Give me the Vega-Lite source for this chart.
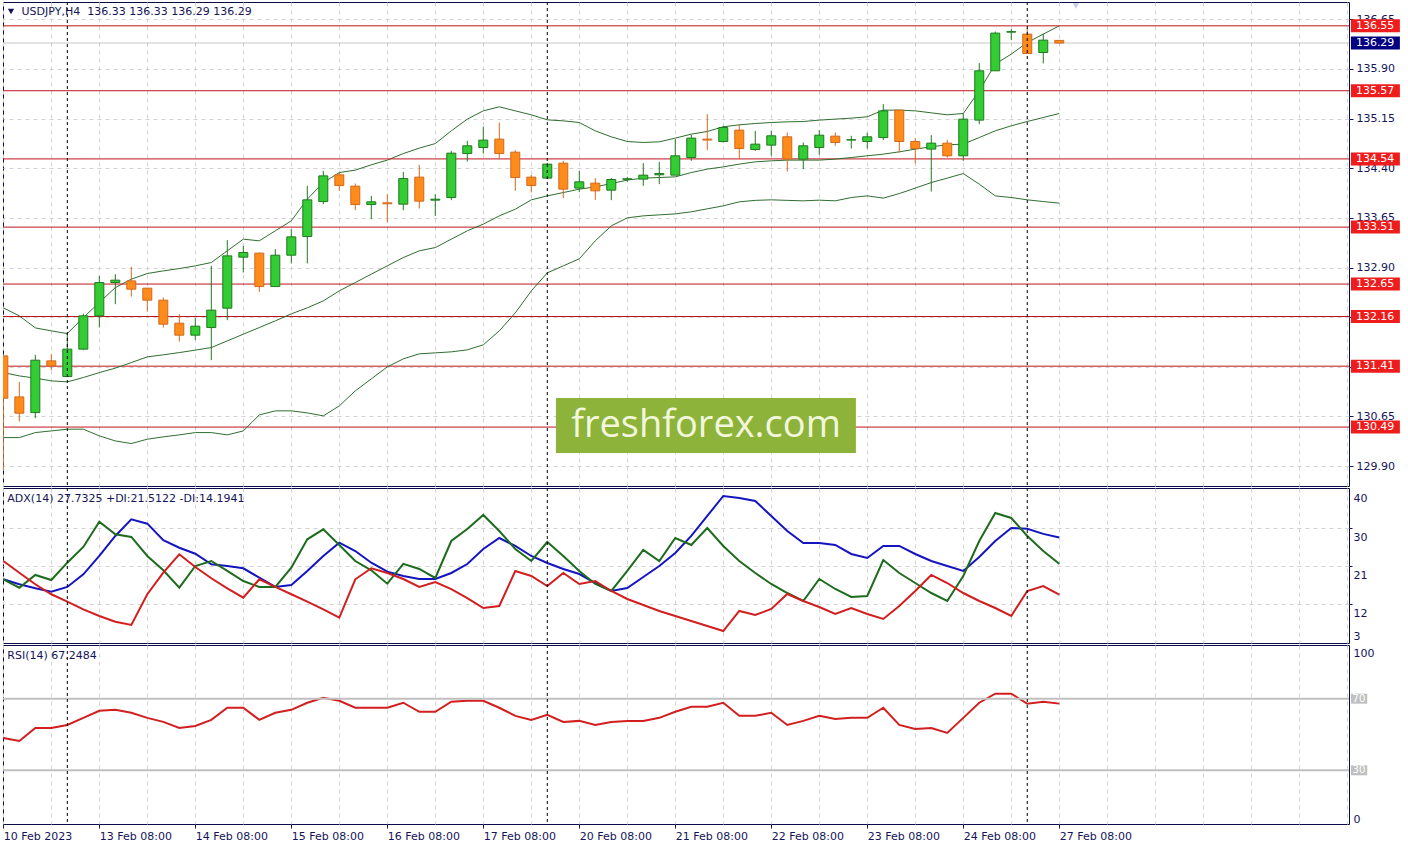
{
"$schema": "https://vega.github.io/schema/vega-lite/v6.json",
"background": "#ffffff",
"padding": {"left": -2, "top": 1, "right": 0, "bottom": 0},
"spacing": 2,
"bounds": "flush",
"config": {
  "view": {"stroke": "#0b0b45", "strokeWidth": 1},
  "axis": {"labelFont": "DejaVu Sans", "labelFontSize": 11, "labelColor": "#14145a", "tickColor": "#14145a", "domainColor": "#0b0b45", "gridColor": "#d2d2d2", "gridDash": [4, 4], "gridWidth": 1, "labelOverlap": false},
  "text": {"font": "DejaVu Sans", "fontSize": 11}
},
"datasets": {
  "bars": [
{"i":0,"o":131.565,"h":131.58,"l":129.83,"c":130.926,"bu":132.291,"bm":131.313,"bl":130.331,"adx":17.85,"pdi":17.85,"mdi":22.18,"rsi":48.03},
{"i":1,"o":130.946,"h":131.173,"l":130.573,"c":130.700,"bu":132.170,"bm":131.263,"bl":130.331,"adx":16.67,"pdi":15.86,"mdi":19.41,"rsi":46.34},
{"i":2,"o":130.709,"h":131.580,"l":130.624,"c":131.500,"bu":131.988,"bm":131.229,"bl":130.407,"adx":15.72,"pdi":18.87,"mdi":16.67,"rsi":53.66},
{"i":3,"o":131.490,"h":131.591,"l":131.349,"c":131.414,"bu":131.943,"bm":131.188,"bl":130.432,"adx":14.91,"pdi":17.68,"mdi":14.3,"rsi":53.66},
{"i":4,"o":131.253,"h":131.898,"l":131.248,"c":131.667,"bu":131.902,"bm":131.173,"bl":130.458,"adx":16.03,"pdi":21.78,"mdi":12.54,"rsi":55.35},
{"i":5,"o":131.667,"h":132.204,"l":131.651,"c":132.170,"bu":132.144,"bm":131.238,"bl":130.458,"adx":19.03,"pdi":25.5,"mdi":10.74,"rsi":59.3},
{"i":6,"o":132.170,"h":132.774,"l":131.993,"c":132.673,"bu":132.371,"bm":131.313,"bl":130.357,"adx":23.37,"pdi":31.49,"mdi":9.16,"rsi":63.24},
{"i":7,"o":132.673,"h":132.799,"l":132.346,"c":132.709,"bu":132.597,"bm":131.380,"bl":130.281,"adx":28.11,"pdi":28.51,"mdi":7.81,"rsi":63.8},
{"i":8,"o":132.698,"h":132.910,"l":132.461,"c":132.573,"bu":132.724,"bm":131.464,"bl":130.241,"adx":32.06,"pdi":27.87,"mdi":7.03,"rsi":62.11},
{"i":9,"o":132.588,"h":132.588,"l":132.235,"c":132.407,"bu":132.809,"bm":131.550,"bl":130.307,"adx":31.02,"pdi":23.37,"mdi":14.3,"rsi":59.3},
{"i":10,"o":132.407,"h":132.446,"l":131.993,"c":132.044,"bu":132.849,"bm":131.581,"bl":130.342,"adx":27.09,"pdi":19.98,"mdi":19.41,"rsi":57.04},
{"i":11,"o":132.059,"h":132.195,"l":131.781,"c":131.878,"bu":132.884,"bm":131.615,"bl":130.372,"adx":25.33,"pdi":15.86,"mdi":23.77,"rsi":53.66},
{"i":12,"o":131.878,"h":132.135,"l":131.807,"c":132.014,"bu":132.925,"bm":131.652,"bl":130.407,"adx":23.91,"pdi":21.0,"mdi":20.76,"rsi":54.79},
{"i":13,"o":131.993,"h":132.925,"l":131.500,"c":132.256,"bu":132.975,"bm":131.691,"bl":130.407,"adx":21.4,"pdi":22.18,"mdi":18.09,"rsi":58.17},
{"i":14,"o":132.286,"h":133.313,"l":132.105,"c":133.076,"bu":133.152,"bm":131.792,"bl":130.372,"adx":21.0,"pdi":19.82,"mdi":15.72,"rsi":64.93},
{"i":15,"o":133.056,"h":133.227,"l":132.824,"c":133.126,"bu":133.328,"bm":131.893,"bl":130.432,"adx":20.46,"pdi":17.45,"mdi":13.49,"rsi":64.93},
{"i":16,"o":133.117,"h":133.126,"l":132.532,"c":132.612,"bu":133.303,"bm":131.993,"bl":130.674,"adx":18.23,"pdi":16.03,"mdi":17.85,"rsi":58.17},
{"i":17,"o":132.612,"h":133.177,"l":132.612,"c":133.086,"bu":133.454,"bm":132.094,"bl":130.735,"adx":16.03,"pdi":16.03,"mdi":16.03,"rsi":62.11},
{"i":18,"o":133.086,"h":133.479,"l":132.960,"c":133.363,"bu":133.605,"bm":132.200,"bl":130.735,"adx":16.5,"pdi":20.6,"mdi":14.3,"rsi":63.8},
{"i":19,"o":133.368,"h":134.134,"l":132.961,"c":133.922,"bu":133.933,"bm":132.291,"bl":130.704,"adx":19.82,"pdi":27.32,"mdi":12.54,"rsi":67.75},
{"i":20,"o":133.896,"h":134.360,"l":133.857,"c":134.284,"bu":134.183,"bm":132.396,"bl":130.659,"adx":23.37,"pdi":29.69,"mdi":10.74,"rsi":70.56},
{"i":21,"o":134.300,"h":134.334,"l":134.058,"c":134.138,"bu":134.334,"bm":132.547,"bl":130.810,"adx":26.52,"pdi":25.97,"mdi":8.76,"rsi":68.87},
{"i":22,"o":134.129,"h":134.168,"l":133.766,"c":133.851,"bu":134.371,"bm":132.673,"bl":131.037,"adx":24.55,"pdi":22.18,"mdi":17.85,"rsi":64.93},
{"i":23,"o":133.851,"h":133.982,"l":133.630,"c":133.892,"bu":134.451,"bm":132.800,"bl":131.218,"adx":21.78,"pdi":19.98,"mdi":20.46,"rsi":64.93},
{"i":24,"o":133.877,"h":134.008,"l":133.579,"c":133.862,"bu":134.522,"bm":132.925,"bl":131.399,"adx":19.65,"pdi":16.81,"mdi":19.34,"rsi":64.93},
{"i":25,"o":133.857,"h":134.345,"l":133.766,"c":134.244,"bu":134.621,"bm":133.050,"bl":131.520,"adx":18.63,"pdi":21.5,"mdi":17.92,"rsi":67.75},
{"i":26,"o":134.265,"h":134.451,"l":133.791,"c":133.902,"bu":134.703,"bm":133.152,"bl":131.596,"adx":17.92,"pdi":20.29,"mdi":16.03,"rsi":62.68},
{"i":27,"o":133.917,"h":134.008,"l":133.680,"c":133.932,"bu":134.772,"bm":133.201,"bl":131.611,"adx":17.92,"pdi":18.16,"mdi":17.2,"rsi":62.68},
{"i":28,"o":133.957,"h":134.662,"l":133.917,"c":134.627,"bu":134.964,"bm":133.328,"bl":131.626,"adx":19.34,"pdi":26.92,"mdi":15.5,"rsi":68.31},
{"i":29,"o":134.621,"h":134.813,"l":134.500,"c":134.738,"bu":135.141,"bm":133.454,"bl":131.656,"adx":21.47,"pdi":29.76,"mdi":13.4,"rsi":68.87},
{"i":30,"o":134.712,"h":135.025,"l":134.621,"c":134.824,"bu":135.266,"bm":133.555,"bl":131.732,"adx":25.03,"pdi":33.08,"mdi":11.05,"rsi":68.87},
{"i":31,"o":134.839,"h":135.090,"l":134.537,"c":134.621,"bu":135.327,"bm":133.680,"bl":131.943,"adx":27.63,"pdi":29.29,"mdi":11.53,"rsi":64.93},
{"i":32,"o":134.642,"h":134.673,"l":134.058,"c":134.259,"bu":135.266,"bm":133.781,"bl":132.215,"adx":25.74,"pdi":25.03,"mdi":19.82,"rsi":60.42},
{"i":33,"o":134.265,"h":134.300,"l":134.032,"c":134.138,"bu":135.206,"bm":133.922,"bl":132.547,"adx":23.37,"pdi":22.18,"mdi":18.63,"rsi":58.17},
{"i":34,"o":134.250,"h":134.481,"l":134.240,"c":134.461,"bu":135.130,"bm":133.982,"bl":132.819,"adx":21.71,"pdi":26.68,"mdi":16.26,"rsi":60.99},
{"i":35,"o":134.476,"h":134.511,"l":133.948,"c":134.084,"bu":135.115,"bm":134.032,"bl":132.925,"adx":20.29,"pdi":23.37,"mdi":19.34,"rsi":57.04},
{"i":36,"o":134.099,"h":134.360,"l":134.037,"c":134.194,"bu":135.090,"bm":134.083,"bl":133.031,"adx":19.1,"pdi":19.82,"mdi":16.74,"rsi":57.61},
{"i":37,"o":134.174,"h":134.250,"l":133.922,"c":134.058,"bu":134.964,"bm":134.118,"bl":133.303,"adx":16.97,"pdi":16.74,"mdi":17.45,"rsi":55.35},
{"i":38,"o":134.068,"h":134.250,"l":133.917,"c":134.229,"bu":134.874,"bm":134.168,"bl":133.529,"adx":15.08,"pdi":15.08,"mdi":15.08,"rsi":57.04},
{"i":39,"o":134.232,"h":134.269,"l":134.194,"c":134.240,"bu":134.803,"bm":134.220,"bl":133.650,"adx":15.79,"pdi":19.82,"mdi":13.18,"rsi":57.61},
{"i":40,"o":134.235,"h":134.476,"l":134.134,"c":134.295,"bu":134.788,"bm":134.250,"bl":133.680,"adx":18.39,"pdi":24.79,"mdi":11.76,"rsi":57.61},
{"i":41,"o":134.300,"h":134.496,"l":134.159,"c":134.319,"bu":134.798,"bm":134.259,"bl":133.695,"adx":21.0,"pdi":22.18,"mdi":10.34,"rsi":59.3},
{"i":42,"o":134.295,"h":134.839,"l":134.295,"c":134.587,"bu":134.854,"bm":134.269,"bl":133.710,"adx":24.08,"pdi":27.63,"mdi":9.16,"rsi":62.68},
{"i":43,"o":134.561,"h":134.904,"l":134.511,"c":134.854,"bu":134.914,"bm":134.334,"bl":133.741,"adx":28.11,"pdi":25.97,"mdi":7.97,"rsi":65.49},
{"i":44,"o":134.839,"h":135.216,"l":134.673,"c":134.825,"bu":134.954,"bm":134.386,"bl":133.786,"adx":32.84,"pdi":30.0,"mdi":6.79,"rsi":65.49},
{"i":45,"o":134.803,"h":135.040,"l":134.788,"c":135.014,"bu":135.025,"bm":134.420,"bl":133.831,"adx":37.58,"pdi":25.74,"mdi":5.6,"rsi":67.75},
{"i":46,"o":134.975,"h":135.065,"l":134.537,"c":134.697,"bu":135.055,"bm":134.461,"bl":133.892,"adx":37.11,"pdi":22.18,"mdi":10.34,"rsi":60.42},
{"i":47,"o":134.682,"h":134.964,"l":134.662,"c":134.763,"bu":135.075,"bm":134.496,"bl":133.914,"adx":36.4,"pdi":19.34,"mdi":9.39,"rsi":60.42},
{"i":48,"o":134.748,"h":134.964,"l":134.587,"c":134.889,"bu":135.090,"bm":134.511,"bl":133.922,"adx":32.84,"pdi":16.74,"mdi":10.82,"rsi":62.11},
{"i":49,"o":134.874,"h":134.939,"l":134.349,"c":134.537,"bu":135.100,"bm":134.522,"bl":133.914,"adx":29.29,"pdi":14.6,"mdi":14.37,"rsi":55.35},
{"i":50,"o":134.537,"h":134.788,"l":134.386,"c":134.738,"bu":135.105,"bm":134.522,"bl":133.907,"adx":26.45,"pdi":12.71,"mdi":12.71,"rsi":57.61},
{"i":51,"o":134.712,"h":134.975,"l":134.602,"c":134.899,"bu":135.126,"bm":134.522,"bl":133.917,"adx":26.45,"pdi":17.92,"mdi":11.29,"rsi":60.42},
{"i":52,"o":134.884,"h":134.939,"l":134.738,"c":134.788,"bu":135.141,"bm":134.537,"bl":133.907,"adx":25.97,"pdi":15.55,"mdi":9.63,"rsi":58.73},
{"i":53,"o":134.825,"h":134.889,"l":134.697,"c":134.830,"bu":135.156,"bm":134.561,"bl":133.957,"adx":23.84,"pdi":13.66,"mdi":11.05,"rsi":59.3},
{"i":54,"o":134.803,"h":134.934,"l":134.697,"c":134.874,"bu":135.176,"bm":134.587,"bl":133.982,"adx":22.89,"pdi":13.89,"mdi":9.63,"rsi":59.3},
{"i":55,"o":134.863,"h":135.368,"l":134.824,"c":135.266,"bu":135.277,"bm":134.612,"bl":133.948,"adx":25.74,"pdi":22.42,"mdi":8.45,"rsi":64.93},
{"i":56,"o":135.277,"h":135.277,"l":134.636,"c":134.803,"bu":135.277,"bm":134.647,"bl":134.017,"adx":25.74,"pdi":19.34,"mdi":11.53,"rsi":55.35},
{"i":57,"o":134.803,"h":134.854,"l":134.470,"c":134.697,"bu":135.266,"bm":134.688,"bl":134.099,"adx":23.84,"pdi":16.97,"mdi":15.08,"rsi":53.1},
{"i":58,"o":134.688,"h":134.899,"l":134.047,"c":134.778,"bu":135.236,"bm":134.723,"bl":134.183,"adx":22.18,"pdi":14.6,"mdi":18.87,"rsi":53.66},
{"i":59,"o":134.778,"h":134.828,"l":134.561,"c":134.587,"bu":135.206,"bm":134.753,"bl":134.250,"adx":21.0,"pdi":12.71,"mdi":16.97,"rsi":50.85},
{"i":60,"o":134.587,"h":135.226,"l":134.511,"c":135.141,"bu":135.226,"bm":134.763,"bl":134.319,"adx":19.82,"pdi":18.63,"mdi":14.6,"rsi":59.3},
{"i":61,"o":135.126,"h":135.987,"l":135.065,"c":135.871,"bu":135.569,"bm":134.863,"bl":134.159,"adx":23.13,"pdi":26.92,"mdi":12.71,"rsi":67.75},
{"i":62,"o":135.871,"h":136.464,"l":135.871,"c":136.440,"bu":135.972,"bm":134.964,"bl":133.982,"adx":26.92,"pdi":33.55,"mdi":11.05,"rsi":72.82},
{"i":63,"o":136.455,"h":136.500,"l":136.334,"c":136.462,"bu":136.123,"bm":135.040,"bl":133.957,"adx":30.0,"pdi":32.37,"mdi":9.16,"rsi":72.82},
{"i":64,"o":136.425,"h":136.520,"l":136.123,"c":136.132,"bu":136.298,"bm":135.105,"bl":133.922,"adx":29.8,"pdi":28.11,"mdi":15.08,"rsi":67.18},
{"i":65,"o":136.147,"h":136.434,"l":135.981,"c":136.334,"bu":136.425,"bm":135.165,"bl":133.896,"adx":28.6,"pdi":24.55,"mdi":16.26,"rsi":68.31},
{"i":66,"o":136.33,"h":136.33,"l":136.29,"c":136.29,"bu":136.550,"bm":135.226,"bl":133.872,"adx":27.73,"pdi":21.51,"mdi":14.19,"rsi":67.25}
  ],
  "levels": [{"lvl":136.55},{"lvl":135.57},{"lvl":134.54},{"lvl":133.51},{"lvl":132.65},{"lvl":132.16},{"lvl":131.41},{"lvl":130.49}],
  "seps": [{"sep":4},{"sep":34},{"sep":64}],
  "rsilv": [{"lvl":70},{"lvl":30}]
},
"vconcat": [
{
  "width": 1346, "height": 484,
  "data": {"name": "bars"},
  "layer": [
    {"mark": {"type": "line", "color": "#2f6e2f", "strokeWidth": 1},
     "encoding": {
       "x": {"field": "i", "type": "quantitative", "scale": {"domain": [-0.02, 84.11], "nice": false, "zero": false, "padding": 0},
         "axis": {"values": [0,3,6,9,12,15,18,21,24,27,30,33,36,39,42,45,48,51,54,57,60,63,66,69,72,75,78,81,84], "tickCount": 40, "grid": true, "labels": false, "ticks": false, "domain": false, "title": null}},
       "y": {"field": "bu", "type": "quantitative", "scale": {"domain": [129.6, 136.91], "nice": false, "zero": false},
         "axis": {"orient": "right", "values": [129.9,130.65,131.4,132.15,132.9,133.65,134.4,135.15,135.9,136.65], "tickCount": 20, "format": ".2f", "grid": true, "tickSize": 4, "labelPadding": 3, "labelOverlap": false, "domain": false, "title": null}}}},
    {"data": {"values": [{"bid": 136.29}]}, "mark": {"type": "rule", "color": "#c8c8c8", "strokeWidth": 1},
     "encoding": {"y": {"field": "bid", "type": "quantitative", "scale": {"domain": [129.6, 136.91], "nice": false, "zero": false}}}},
    {"data": {"name": "levels"}, "mark": {"type": "rule", "color": "#c0141c", "strokeWidth": 1},
     "encoding": {"y": {"field": "lvl", "type": "quantitative", "scale": {"domain": [129.6, 136.91], "nice": false, "zero": false}}}},
    {"mark": {"type": "line", "color": "#2f6e2f", "strokeWidth": 1},
     "encoding": {"x": {"field": "i", "type": "quantitative", "scale": {"domain": [-0.02, 84.11], "nice": false, "zero": false, "padding": 0}},
       "y": {"field": "bm", "type": "quantitative", "scale": {"domain": [129.6, 136.91], "nice": false, "zero": false}}}},
    {"mark": {"type": "line", "color": "#2f6e2f", "strokeWidth": 1},
     "encoding": {"x": {"field": "i", "type": "quantitative", "scale": {"domain": [-0.02, 84.11], "nice": false, "zero": false, "padding": 0}},
       "y": {"field": "bl", "type": "quantitative", "scale": {"domain": [129.6, 136.91], "nice": false, "zero": false}}}},
    {"mark": {"type": "rule", "strokeWidth": 1, "clip": true},
     "encoding": {"x": {"field": "i", "type": "quantitative", "scale": {"domain": [-0.02, 84.11], "nice": false, "zero": false, "padding": 0}},
       "y": {"field": "l", "type": "quantitative", "scale": {"domain": [129.6, 136.91], "nice": false, "zero": false}},
       "y2": {"field": "h"},
       "color": {"condition": {"test": "datum.c >= datum.o", "value": "#1f7a1f"}, "value": "#d2691e"}}},
    {"mark": {"type": "bar", "width": 9, "strokeWidth": 1, "clip": true},
     "encoding": {"x": {"field": "i", "type": "quantitative", "scale": {"domain": [-0.02, 84.11], "nice": false, "zero": false, "padding": 0}},
       "y": {"field": "o", "type": "quantitative", "scale": {"domain": [129.6, 136.91], "nice": false, "zero": false}},
       "y2": {"field": "c"},
       "fill": {"condition": {"test": "datum.c >= datum.o", "value": "#33cc33"}, "value": "#ff8c1a"},
       "stroke": {"condition": {"test": "datum.c >= datum.o", "value": "#1f7a1f"}, "value": "#d2691e"}}},
    {"data": {"name": "seps"}, "mark": {"type": "rule", "color": "#000000", "strokeDash": [3, 3], "strokeWidth": 1},
     "encoding": {"x": {"field": "sep", "type": "quantitative", "scale": {"domain": [-0.02, 84.11], "nice": false, "zero": false, "padding": 0}}}},
    {"data": {"values": [{"wm": "freshforex.com"}]}, "mark": {"type": "rect", "color": "#8db33b"},
     "encoding": {"x": {"datum": 34.54, "type": "quantitative", "scale": {"domain": [-0.02, 84.11], "nice": false, "zero": false, "padding": 0}}, "x2": {"datum": 53.29},
       "y": {"datum": 130.928, "type": "quantitative", "scale": {"domain": [129.6, 136.91], "nice": false, "zero": false}}, "y2": {"datum": 130.097}}},
    {"data": {"values": [{"wm": "freshforex.com"}]}, "mark": {"type": "text", "font": "Open Sans", "fontSize": 38, "color": "#f2f7dc", "align": "center", "baseline": "middle"},
     "encoding": {"x": {"datum": 43.92, "type": "quantitative", "scale": {"domain": [-0.02, 84.11], "nice": false, "zero": false, "padding": 0}},
       "y": {"datum": 130.513, "type": "quantitative", "scale": {"domain": [129.6, 136.91], "nice": false, "zero": false}},
       "text": {"field": "wm"}}},
    {"data": {"values": [{"sym": "USDJPY,H4"}]}, "mark": {"type": "point", "shape": "triangle-down", "filled": true, "size": 40, "color": "#14145a", "opacity": 1},
     "encoding": {"x": {"datum": 0.48, "type": "quantitative", "scale": {"domain": [-0.02, 84.11], "nice": false, "zero": false, "padding": 0}},
       "y": {"datum": 136.766, "type": "quantitative", "scale": {"domain": [129.6, 136.91], "nice": false, "zero": false}}}},
    {"data": {"values": [{"sym": "USDJPY,H4\u00a0\u00a0136.33 136.33 136.29 136.29"}]}, "mark": {"type": "text", "color": "#14145a", "align": "left", "baseline": "middle"},
     "encoding": {"x": {"datum": 1.14, "type": "quantitative", "scale": {"domain": [-0.02, 84.11], "nice": false, "zero": false, "padding": 0}},
       "y": {"datum": 136.759, "type": "quantitative", "scale": {"domain": [129.6, 136.91], "nice": false, "zero": false}},
       "text": {"field": "sym"}}},
    {"data": {"values": [{"mk": "shift"}]}, "mark": {"type": "point", "shape": "triangle-down", "filled": true, "size": 40, "color": "#c8c8f0", "opacity": 1},
     "encoding": {"x": {"datum": 67.04, "type": "quantitative", "scale": {"domain": [-0.02, 84.11], "nice": false, "zero": false, "padding": 0}},
       "y": {"datum": 136.85, "type": "quantitative", "scale": {"domain": [129.6, 136.91], "nice": false, "zero": false}}}},
    {"data": {"name": "levels"}, "mark": {"type": "rule", "color": "#ee1c1c", "strokeWidth": 13, "strokeCap": "butt"},
     "encoding": {"x": {"datum": 84.23, "type": "quantitative", "scale": {"domain": [-0.02, 84.11], "nice": false, "zero": false, "padding": 0}}, "x2": {"datum": 87.29},
       "y": {"field": "lvl", "type": "quantitative", "scale": {"domain": [129.6, 136.91], "nice": false, "zero": false}}}},
    {"data": {"name": "levels"}, "mark": {"type": "text", "color": "#ffffff", "align": "left", "baseline": "middle"},
     "encoding": {"x": {"datum": 84.54, "type": "quantitative", "scale": {"domain": [-0.02, 84.11], "nice": false, "zero": false, "padding": 0}},
       "y": {"field": "lvl", "type": "quantitative", "scale": {"domain": [129.6, 136.91], "nice": false, "zero": false}},
       "text": {"field": "lvl", "format": ".2f"}}},
    {"data": {"values": [{"bid": 136.29}]}, "mark": {"type": "rule", "color": "#000080", "strokeWidth": 13, "strokeCap": "butt"},
     "encoding": {"x": {"datum": 84.23, "type": "quantitative", "scale": {"domain": [-0.02, 84.11], "nice": false, "zero": false, "padding": 0}}, "x2": {"datum": 87.29},
       "y": {"field": "bid", "type": "quantitative", "scale": {"domain": [129.6, 136.91], "nice": false, "zero": false}}}},
    {"data": {"values": [{"bid": 136.29}]}, "mark": {"type": "text", "color": "#ffffff", "align": "left", "baseline": "middle"},
     "encoding": {"x": {"datum": 84.54, "type": "quantitative", "scale": {"domain": [-0.02, 84.11], "nice": false, "zero": false, "padding": 0}},
       "y": {"field": "bid", "type": "quantitative", "scale": {"domain": [129.6, 136.91], "nice": false, "zero": false}},
       "text": {"field": "bid", "format": ".2f"}}}
  ]
},
{
  "width": 1346, "height": 155,
  "data": {"name": "bars"},
  "layer": [
    {"mark": {"type": "line", "color": "#1414c0", "strokeWidth": 2},
     "encoding": {
       "x": {"field": "i", "type": "quantitative", "scale": {"domain": [-0.02, 84.11], "nice": false, "zero": false, "padding": 0},
         "axis": {"values": [0,3,6,9,12,15,18,21,24,27,30,33,36,39,42,45,48,51,54,57,60,63,66,69,72,75,78,81,84], "tickCount": 40, "grid": true, "labels": false, "ticks": false, "domain": false, "title": null}},
       "y": {"field": "adx", "type": "quantitative", "scale": {"domain": [2.76, 39.47], "nice": false, "zero": false},
        "axis": {"orient": "right", "values": [3, 12, 21, 30, 39.47], "tickCount": 20, "format": "d", "labelExpr": "datum.value > 39 ? '40' : datum.label", "grid": true,
          "gridOpacity": {"condition": {"test": "datum.value > 5 && datum.value < 39", "value": 1}, "value": 0},
          "tickOpacity": {"condition": {"test": "datum.value > 5 && datum.value < 39", "value": 1}, "value": 0},
          "tickSize": 3, "labelPadding": 1, "labelOverlap": false,
          "labelBaseline": {"condition": {"test": "datum.value < 5", "value": "bottom"}, "value": "top"},
          "labelOffset": {"condition": {"test": "datum.value < 5", "value": 0}, "value": 4},
          "domain": false, "title": null}}}},
    {"mark": {"type": "line", "color": "#1e6b1e", "strokeWidth": 2},
     "encoding": {"x": {"field": "i", "type": "quantitative", "scale": {"domain": [-0.02, 84.11], "nice": false, "zero": false, "padding": 0}},
       "y": {"field": "pdi", "type": "quantitative", "scale": {"domain": [2.76, 39.47], "nice": false, "zero": false}}}},
    {"mark": {"type": "line", "color": "#d21e1e", "strokeWidth": 2},
     "encoding": {"x": {"field": "i", "type": "quantitative", "scale": {"domain": [-0.02, 84.11], "nice": false, "zero": false, "padding": 0}},
       "y": {"field": "mdi", "type": "quantitative", "scale": {"domain": [2.76, 39.47], "nice": false, "zero": false}}}},
    {"data": {"name": "seps"}, "mark": {"type": "rule", "color": "#000000", "strokeDash": [3, 3], "strokeWidth": 1},
     "encoding": {"x": {"field": "sep", "type": "quantitative", "scale": {"domain": [-0.02, 84.11], "nice": false, "zero": false, "padding": 0}}}},
    {"data": {"values": [{"lab": "ADX(14) 27.7325 +DI:21.5122 -DI:14.1941"}]}, "mark": {"type": "text", "color": "#14145a", "align": "left", "baseline": "middle"},
     "encoding": {"x": {"datum": 0.25, "type": "quantitative", "scale": {"domain": [-0.02, 84.11], "nice": false, "zero": false, "padding": 0}},
       "y": {"datum": 36.87, "type": "quantitative", "scale": {"domain": [2.76, 39.47], "nice": false, "zero": false}},
       "text": {"field": "lab"}}}
  ]
},
{
  "width": 1346, "height": 179,
  "data": {"name": "bars"},
  "layer": [
    {"mark": {"type": "line", "color": "#d21e1e", "strokeWidth": 2},
     "encoding": {
       "x": {"field": "i", "type": "quantitative", "scale": {"domain": [-0.02, 84.11], "nice": false, "zero": false, "padding": 0},
         "axis": {"values": [0,3,6,9,12,15,18,21,24,27,30,33,36,39,42,45,48,51,54,57,60,63,66,69,72,75,78,81,84], "tickCount": 40, "grid": true,
           "labelExpr": "datum.value % 6 == 0 && datum.value <= 66 ? ['10 Feb 2023','13 Feb 08:00','14 Feb 08:00','15 Feb 08:00','16 Feb 08:00','17 Feb 08:00','20 Feb 08:00','21 Feb 08:00','22 Feb 08:00','23 Feb 08:00','24 Feb 08:00','27 Feb 08:00'][datum.value / 6] : ''",
           "labelAlign": "left", "labelBaseline": "top", "labelPadding": 2, "tickSize": 4,
           "tickOpacity": {"condition": {"test": "datum.value % 6 == 0 && datum.value <= 66", "value": 1}, "value": 0},
           "labelOverlap": false, "labelFlush": false, "labelBound": false, "domain": false, "title": null}},
       "y": {"field": "rsi", "type": "quantitative", "scale": {"domain": [0, 100], "nice": false, "zero": false},
        "axis": {"orient": "right", "values": [0, 100], "grid": false, "ticks": false, "domain": false, "labelPadding": 4, "labelOverlap": false,
          "labelBaseline": {"condition": {"test": "datum.value > 50", "value": "top"}, "value": "bottom"},
          "labelOffset": {"condition": {"test": "datum.value > 50", "value": 2}, "value": 0}, "title": null}}}},
    {"data": {"name": "rsilv"}, "mark": {"type": "rule", "color": "#c0c0c0", "strokeWidth": 2},
     "encoding": {"y": {"field": "lvl", "type": "quantitative", "scale": {"domain": [0, 100], "nice": false, "zero": false}}}},
    {"data": {"name": "seps"}, "mark": {"type": "rule", "color": "#000000", "strokeDash": [3, 3], "strokeWidth": 1},
     "encoding": {"x": {"field": "sep", "type": "quantitative", "scale": {"domain": [-0.02, 84.11], "nice": false, "zero": false, "padding": 0}}}},
    {"data": {"values": [{"lab": "RSI(14) 67.2484"}]}, "mark": {"type": "text", "color": "#14145a", "align": "left", "baseline": "middle"},
     "encoding": {"x": {"datum": 0.25, "type": "quantitative", "scale": {"domain": [-0.02, 84.11], "nice": false, "zero": false, "padding": 0}},
       "y": {"datum": 93.85, "type": "quantitative", "scale": {"domain": [0, 100], "nice": false, "zero": false}},
       "text": {"field": "lab"}}},
    {"data": {"name": "rsilv"}, "mark": {"type": "rule", "color": "#c0c0c0", "strokeWidth": 10, "strokeCap": "butt"},
     "encoding": {"x": {"datum": 84.23, "type": "quantitative", "scale": {"domain": [-0.02, 84.11], "nice": false, "zero": false, "padding": 0}}, "x2": {"datum": 85.25},
       "y": {"field": "lvl", "type": "quantitative", "scale": {"domain": [0, 100], "nice": false, "zero": false}}}},
    {"data": {"name": "rsilv"}, "mark": {"type": "text", "color": "#ffffff", "align": "left", "baseline": "middle", "fontSize": 10},
     "encoding": {"x": {"datum": 84.33, "type": "quantitative", "scale": {"domain": [-0.02, 84.11], "nice": false, "zero": false, "padding": 0}},
       "y": {"field": "lvl", "type": "quantitative", "scale": {"domain": [0, 100], "nice": false, "zero": false}},
       "text": {"field": "lvl"}}}
  ]
}
]
}
